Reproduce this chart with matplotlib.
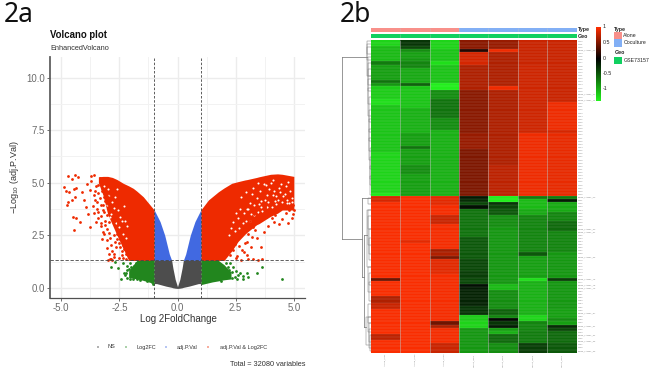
import numpy as np
import matplotlib
matplotlib.use('Agg')
import matplotlib.pyplot as plt
from matplotlib.colors import LinearSegmentedColormap

plt.rcParams['font.family'] = ['Liberation Sans', 'DejaVu Sans']
plt.rcParams['mathtext.default'] = 'regular'

W, H = 655, 378

# volcano regions (x, lower edge, upper edge)
red_l_x = [-3.4, -3.2, -3.0, -2.8, -2.6, -2.33, -2.1, -1.9, -1.75, -1.47, -1.0]
red_l_lo = [5.0, 4.4, 3.5, 3.0, 2.5, 1.85, 1.3, 1.3, 1.3, 1.3, 1.3]
red_l_hi = [5.28, 5.3, 5.3, 5.25, 5.15, 4.97, 4.85, 4.73, 4.6, 4.33, 3.7]
red_r_x = [1.0, 1.33, 1.76, 2.0, 2.33, 2.6, 2.9, 3.0, 3.4, 3.5, 4.0, 4.3, 4.5, 5.0]
red_r_lo = [1.3, 1.3, 1.3, 1.3, 1.75, 2.2, 2.55, 2.65, 3.0, 3.05, 3.4, 3.55, 3.7, 3.7]
red_r_hi = [3.7, 4.18, 4.57, 4.75, 4.97, 5.05, 5.13, 5.15, 5.25, 5.28, 5.4, 5.42, 5.4, 5.3]
blue_x = [0.25, 0.35, 0.55, 0.75, 1.0]
blue_hi = [1.3, 1.6, 2.5, 3.15, 3.7]
grey_x = [0.0, 0.1, 0.2, 0.25, 0.5, 0.9, 1.0]
grey_hi = [0.05, 0.4, 0.95, 1.3, 1.3, 1.3, 1.3]
grey_lo = [-0.03, -0.02, 0.0, 0.02, 0.08, 0.2, 0.2]
green_l_x = [-2.1, -1.9, -1.75, -1.5, -1.0]
green_l_lo = [0.48, 0.45, 0.42, 0.36, 0.2]
green_l_hi = [0.8, 1.1, 1.3, 1.3, 1.3]
green_r_x = [1.0, 1.5, 1.76, 2.0, 2.3]
green_r_lo = [0.15, 0.28, 0.33, 0.38, 0.42]
green_r_hi = [1.3, 1.3, 1.3, 1.1, 0.75]

red_pts_x = [-4.87, -4.69, -4.41, -4.29, -4.55, -4.78, -4.65, -4.45, -4.35, -4.75, -4.72, -4.55, -4.4, -4.35,
             -4.5, -4.2, -4.44, -3.75, -3.85, -3.95, -4.1, -3.9, -3.7, -3.6, -3.78, -3.55, -3.5, -3.4, -3.35,
             -3.3, -3.25, -3.2, -3.15, -3.6, -3.5, -3.45, -3.3, -3.2, -3.1, -3.05, -3.0, -3.3, -3.15, -3.05,
             -2.95, -2.85, -3.05, -2.95, -2.85, -2.75, -2.65, -3.2, -3.05, -2.9, -2.8, -2.7, -2.6, -2.55,
             -2.95, -2.75, -2.65, -2.5, -2.4, -2.85, -2.75, -3.0, -2.9, -2.8, -2.45, -2.35, -2.2,
             -2.15, -2.05, -4.0, -3.65, -3.42, -3.25, -3.1, -2.92, -3.7, -3.55, -3.4, -3.25, -3.45, -3.6,
             -3.35, -3.2, -3.1, -3.4, -3.15, -3.3, -2.6, -2.5, -2.4, -2.3, -2.2, -2.45, -2.35,
             2.72, 3.02, 3.26, 2.76, 3.0, 3.15, 3.6, 3.4, 3.2, 3.35, 2.55, 2.4, 2.9, 3.05, 3.25, 3.4,
             3.55, 3.1, 3.3, 3.7, 3.9, 4.05, 4.2, 4.35, 4.5, 4.65, 4.75, 4.9, 4.95, 5.0, 4.95, 4.4, 4.6,
             4.3, 3.95, 3.75, 3.55, 2.3, 2.45, 2.6, 2.75, 2.9, 3.1, 2.1, 2.25, 2.5, 2.65, 1.95, 2.05,
             2.2, 2.35, 3.8, 4.15, 4.8, 3.45, 3.65, 3.0, 2.85]
red_pts_y = [4.81, 5.32, 5.35, 5.29, 5.16, 4.6, 4.55, 4.7, 4.75, 3.95, 4.1, 4.2, 4.3, 3.3,
             3.35, 3.15, 2.75, 2.9, 3.5, 3.85, 4.55, 4.95, 5.3, 5.35, 4.65, 4.2, 4.85, 4.5, 5.2,
             3.95, 4.6, 5.05, 4.3, 3.55, 3.15, 3.75, 3.4, 3.7, 3.0, 3.45, 4.0, 2.95, 2.55, 2.8,
             3.15, 3.65, 2.25, 2.6, 2.05, 2.5, 2.9, 2.65, 1.9, 2.35, 1.75, 2.2, 2.55, 3.1,
             1.6, 1.45, 1.95, 1.4, 1.75, 1.35, 1.6, 1.33, 1.36, 1.3, 2.3, 2.05, 1.35,
             1.9, 1.5, 4.2, 3.9, 3.3, 2.3, 3.2, 4.45, 5.1, 4.6, 4.9, 4.75, 4.1, 4.4,
             4.25, 3.95, 4.15, 3.6, 3.6, 3.1, 2.3, 2.15, 1.55, 1.85, 1.6, 1.95, 1.4,
             1.32, 1.35, 1.35, 1.8, 1.55, 1.95, 1.95, 2.35, 2.4, 2.75, 1.5, 1.8, 2.15, 2.55, 2.9, 3.15,
             3.3, 3.2, 3.5, 2.65, 2.95, 3.3, 3.45, 3.05, 3.25, 3.55, 3.1, 3.3, 3.5, 3.7, 3.95, 3.75, 3.9,
             3.7, 3.6, 3.85, 3.55, 2.2, 2.1, 2.45, 2.65, 2.95, 3.05, 1.7, 1.55, 1.4, 2.0, 1.45, 2.05,
             1.95, 2.4, 3.35, 3.15, 3.7, 1.33, 1.38, 2.2, 1.7]

hole_x = [2.75, 2.95, 3.1, 3.25, 3.4, 3.55, 3.7, 3.85, 4.0, 4.15, 4.3, 4.45, 4.6, 4.75, 4.9, 3.05, 3.3, 3.5, 3.75,
          3.95, 4.2, 4.4, 4.65, 4.85, 3.2, 3.6, 3.9, 4.1, 4.35, 4.55, 4.8, 3.45, 3.8, 4.25, 4.7, 2.85, 3.15, 2.6,
          2.4, 2.5, 2.2, 2.3, 2.45, 2.65, 2.8, 2.95, 3.1, 3.3, 3.45, 3.65, 3.85, 4.05, 4.25, 4.5, 4.7, 4.9, 4.1,
          3.6, 3.0, 2.7, -2.55, -2.4, -2.7, -2.3, -2.15, -2.6, -2.8, -2.95, -3.05, -2.85, -2.65, -2.5, -2.35, -2.2,
          -3.0, -2.75, -2.45, -2.25, -3.15, -2.9]
hole_y = [4.3, 4.55, 4.05, 4.75, 4.25, 4.6, 4.95, 4.4, 5.0, 4.6, 4.2, 4.95, 4.45, 5.05, 4.25, 3.75, 3.95, 4.0, 4.2,
          4.7, 4.15, 4.55, 4.85, 4.6, 4.45, 4.15, 4.1, 5.15, 4.75, 4.35, 4.05, 5.0, 4.9, 4.35, 4.2, 3.55, 3.5, 3.3,
          3.15, 3.55, 2.5, 2.85, 2.7, 2.85, 3.1, 3.2, 3.2, 3.45, 3.6, 3.65, 3.85, 3.85, 4.0, 4.1, 4.05, 4.1, 4.4,
          3.85, 3.75, 3.75, 3.7, 3.2, 4.3, 3.9, 2.95, 4.7, 4.1, 4.4, 3.95, 3.5, 3.1, 2.9, 2.55, 2.35,
          4.7, 3.8, 3.35, 3.2, 4.85, 3.35]

green_pts_x = [-2.86, -2.57, -2.69, -2.36, -2.43, -2.16, -2.04, -1.9, -1.73, -1.6, -2.19, -2.1, -1.95, -2.22, -1.85,
               -1.78, -1.98, -1.3, -1.1, -1.05, -2.3, -2.25, -2.15, -2.05,
               1.97, 2.26, 2.4, 2.05, 2.33, 2.55, 2.83, 2.97, 2.69, 3.4, 3.62, 4.5, 3.05, 2.83, 1.85, 2.15, 2.6, 2.1,
               2.45, 2.35, 2.5, 2.2]
green_pts_y = [1.0, 0.96, 1.24, 1.16, 0.44, 0.47, 0.44, 0.44, 0.44, 0.35, 0.84, 0.9, 0.75, 0.7, 1.05,
               1.2, 1.0, 0.33, 0.27, 0.2, 0.72, 0.6, 1.05, 1.2,
               0.99, 1.16, 0.99, 0.78, 0.75, 0.44, 0.44, 0.68, 0.68, 0.68, 0.97, 0.4, 0.52, 0.55, 0.32, 1.0, 0.62, 1.2,
               0.5, 0.45, 0.8, 0.85]

x_ticks = [-5.0, -2.5, 0.0, 2.5, 5.0]
y_ticks = [0.0, 2.5, 5.0, 7.5, 10.0]
legend_names = ['NS', 'Log2FC', 'adj.P.Val', 'adj.P.Val & Log2FC']

alone_1 = [-1.2]*2 + [-1.05]*5 + [-0.7] + [-0.9]*5 + [-0.65, -0.85] + [-1.15]*4 + [-1.25]*2 + [-1.1]*15 + [-1.2]*13 + [-1.3] \
    + [0.85]*2 + [1.0]*24 + [0.45] + [1.0]*5 + [0.7]*2 + [0.8]*2 + [1.0]*8 + [0.75]*2 + [1.0]*4
alone_2 = [-0.3, -0.3, -0.4, -0.8, -0.9, -0.9, -0.85, -0.75, -0.75] + [-0.95]*5 + [-0.55] + [-1.1]*7 + [-1.0]*8 + [-0.9]*4 \
    + [-0.65] + [-0.9]*5 + [-0.8]*3 + [-0.9]*7 \
    + [1.0]*14 + [0.9] + [1.0]*35
alone_3 = [-1.2]*3 + [-1.1]*4 + [-1.25] + [-1.1]*6 + [-1.35]*2 + [-0.8]*3 + [-0.65]*6 + [-0.8]*4 + [-1.0]*21 \
    + [0.9]*3 + [0.98]*3 + [0.8]*3 + [0.98]*8 + [0.65, 0.7, 0.5] + [0.9]*5 + [0.98]*15 + [0.45, 0.7] + [0.98]*5 + [0.8]*3
cocult_1 = [0.55]*3 + [0.15] + [0.85]*4 + [0.7]*8 + [0.55]*14 + [0.6]*5 + [0.5]*15 \
    + [-0.15, -0.25, -0.4, -0.1] + [-0.65]*9 + [-0.5]*7 + [-0.4]*4 + [-0.35]*2 + [-0.4]*2 + [-0.08, -0.15] \
    + [-0.2]*5 + [-0.3]*3 + [-1.15]*2 + [-1.2]*2 + [-0.85]*8
cocult_2 = [0.6]*3 + [0.95] + [0.7]*11 + [0.95] + [0.7]*24 + [0.75]*10 \
    + [-1.35]*2 + [-0.3, -0.4, -0.5, -0.5] + [-0.8]*4 + [-0.85]*18 + [-1.05]*2 + [-0.8]*6 + [-0.55]*2 \
    + [-0.75, -0.05, -0.3, -0.15, -0.9, -1.0] + [-0.6]*3 + [-0.8]*3
cocult_3 = [0.8]*8 + [0.82]*22 + [0.95]*20 \
    + [-0.7] + [-1.05]*3 + [-0.95]*2 + [-0.75]*12 + [-0.5] + [-0.9]*7 + [-1.25] + [-1.0]*11 + [-1.2]*2 + [-0.75]*3 \
    + [-0.7]*4 + [-0.35]*3
cocult_4 = [0.8]*20 + [0.95]*9 + [0.85] + [0.92]*20 \
    + [-0.7, -0.15] + [-0.95]*3 + [-0.75]*3 + [-0.6]*3 + [-0.75]*7 + [-0.85]*8 + [-0.35] + [-0.85]*9 + [-0.9]*3 \
    + [-0.8, -0.9, -0.25, -0.4] + [-0.6]*4 + [-0.5]*3
heat_cols = [alone_1, alone_2, alone_3, cocult_1, cocult_2, cocult_3, cocult_4]

# labels too small to read in the source, so neutral names of similar length
sample_labels = ['Alone_rep1', 'Alone_rep2', 'Alone_rep3', 'Cocult_rep1', 'Cocult_rep2', 'Cocult_rep3', 'Cocult_rep4']
long_rows = [3, 17, 19, 50, 60, 61, 69, 76, 78, 79, 87, 91, 94, 96, 99]
cbar_ticks = [-1, -0.5, 0, 0.5, 1]

# dendrogram merges: height, first row, second row
dend_merges = [(4.0, 0, 11), (3.6, 1, 4), (3.2, 5, 11), (3.4, 2, 6), (2.8, 7, 16), (2.6, 9, 14), (2.6, 12, 20),
               (2.3, 15, 24), (2.1, 18, 26), (1.9, 22, 29), (1.7, 25, 32), (1.5, 28, 35), (1.3, 31, 38),
               (1.1, 34, 41), (0.9, 37, 44), (0.7, 40, 46), (0.5, 43, 49),
               (3.0, 50, 52), (3.5, 54, 72), (3.0, 54, 60), (2.6, 56, 65), (2.2, 60, 68), (1.9, 63, 70),
               (2.4, 72, 80), (1.8, 74, 78), (1.5, 77, 83), (4.5, 88, 97), (3.2, 84, 90), (2.5, 88, 93),
               (2.0, 90, 96), (1.5, 92, 98), (1.0, 94, 99)]
dend_trunk = [(28.4, 5.5, 63.6), (9.0, 50.5, 75.8), (6.4, 62.5, 91.7)]

fig = plt.figure(figsize=(W / 100, H / 100), dpi=100)


def axes_px(left, top, right, bottom):
    return fig.add_axes([left / W, 1 - bottom / H, (right - left) / W, (bottom - top) / H])


def text_px(x, y, s, **kw):
    kw.setdefault('va', 'center')
    fig.text(x / W, 1 - y / H, s, **kw)


text_px(4, 15, '2a', fontsize=19, family=['Noto Sans', 'DejaVu Sans'], color='#111111')
text_px(340, 15, '2b', fontsize=19, family=['Noto Sans', 'DejaVu Sans'], color='#111111')

# volcano panel
ax = axes_px(50, 57, 305, 298.3)
ax.set_xlim(-5.48, 5.48)
ax.set_ylim(-0.5, 10.98)
ax.set_xticks(x_ticks)
ax.set_yticks(y_ticks)
ax.set_xticklabels(['-5.0', '-2.5', '0.0', '2.5', '5.0'])
ax.set_xticks([-3.75, -1.25, 1.25, 3.75], minor=True)
ax.set_yticks([1.25, 3.75, 6.25, 8.75], minor=True)
ax.grid(True, which='major', color='#ececec', lw=1.0)
ax.grid(True, which='minor', color='#f2f2f2', lw=0.7)
ax.set_axisbelow(True)
for s in ['top', 'right']:
    ax.spines[s].set_visible(False)
ax.spines['left'].set_color('#606060')
ax.spines['left'].set_linewidth(1.3)
ax.spines['bottom'].set_color('#505050')
ax.spines['bottom'].set_linewidth(0.9)
ax.tick_params(which='major', length=2, width=0.6, color='#555555', labelsize=6.9, labelcolor='#6a6a6a', pad=1.5)
ax.tick_params(which='minor', length=0)

red, green, blue, dark = '#ee2a00', '#22861e', '#4169e1', '#4d4d4d'
gx = np.array(grey_x)
bx = np.array(blue_x)
ax.fill_between(red_l_x, red_l_lo, red_l_hi, color=red, lw=0)
ax.fill_between(red_r_x, red_r_lo, red_r_hi, color=red, lw=0)
ax.fill_between(-bx, 1.3, blue_hi, color=blue, lw=0)
ax.fill_between(bx, 1.3, blue_hi, color=blue, lw=0)
ax.fill_between(-gx, grey_lo, grey_hi, color=dark, lw=0)
ax.fill_between(gx, grey_lo, grey_hi, color=dark, lw=0)
ax.fill_between(green_l_x, green_l_lo, green_l_hi, color=green, lw=0)
ax.fill_between(green_r_x, green_r_lo, green_r_hi, color=green, lw=0)
ax.scatter(hole_x, hole_y, s=2.2, color='white', lw=0, zorder=3)
ax.scatter(red_pts_x, red_pts_y, s=4, color=red, lw=0, zorder=4)
ax.scatter(green_pts_x, green_pts_y, s=4, color=green, lw=0, zorder=4)
for v in [-1, 1]:
    ax.axvline(v, color='#444444', lw=0.6, ls=(0, (3, 2)), zorder=5)
ax.axhline(1.3, color='#444444', lw=0.6, ls=(0, (4, 2)), zorder=5)

text_px(50, 35, 'Volcano plot', fontsize=6.9, fontweight='bold', color='#111111')
text_px(50, 48, 'EnhancedVolcano', fontsize=5.3, color='#333333')
text_px(15, 177, r'$-$Log$_{10}$ (adj.P.Val)', fontsize=6.5, rotation=90, ha='center', color='#333333')
text_px(178.7, 319, 'Log 2FoldChange', fontsize=7.0, ha='center', color='#333333')
text_px(305, 364, 'Total = 32080 variables', fontsize=5.3, ha='right', color='#333333')

legend_dot_x = [98, 126, 166, 208]
legend_text_x = [111, 146, 187, 244]
legend_colors = ['#333333', green, blue, red]
leg = fig.add_axes([0, 0, 1, 1], facecolor='none')
leg.set_xlim(0, W)
leg.set_ylim(H, 0)
leg.axis('off')
leg.scatter(legend_dot_x, [347] * 4, s=1.0, color=legend_colors, lw=0)
for x, name in zip(legend_text_x, legend_names):
    text_px(x, 347, name, fontsize=4.0, ha='center', color='#333333')

# heatmap panel
cmap = LinearSegmentedColormap.from_list('gbr', [(0, '#22f21c'), (1.37 / 2.39, '#000000'), (1, '#ff2e00')])
heat = np.array(heat_cols).T
hm = axes_px(370.7, 39.5, 576.7, 352.7)
hm.pcolormesh(heat, cmap=cmap, vmin=-1.37, vmax=1.02)
hm.set_ylim(heat.shape[0], 0)
hm.hlines(range(1, heat.shape[0]), 0, 7, color='#d8d8d8', lw=0.3, alpha=0.35)
hm.vlines(range(1, 7), 0, heat.shape[0], color='#c0c0c0', lw=0.5, alpha=0.7)
hm.axis('off')

for i in range(heat.shape[0]):
    name = 'GENE_LABEL_%02d' % i if i in long_rows else 'G%03d' % i
    text_px(578, 39.5 + (i + 0.5) * 3.13, name, fontsize=1.6, color='#888888')
for j, name in enumerate(sample_labels):
    text_px(370.7 + (j + 0.5) * 206 / 7, 354, name, fontsize=1.7, rotation=90, ha='center', va='top', color='#888888')

# annotation bars
ann = axes_px(370.7, 27.7, 576.7, 32.3)
ann.pcolormesh([[0, 0, 0, 1, 1, 1, 1]], cmap=LinearSegmentedColormap.from_list('t', ['#f8908a', '#82aff5']))
ann.vlines(range(1, 7), 0, 1, color='#c0c0c0', lw=0.4, alpha=0.7)
ann.axis('off')
geo = axes_px(370.7, 33.7, 576.7, 38.3)
geo.pcolormesh([[0] * 7], cmap=LinearSegmentedColormap.from_list('g', ['#10d060', '#10d060']))
geo.vlines(range(1, 7), 0, 1, color='#70c890', lw=0.4)
geo.axis('off')
text_px(578, 30, 'Type', fontsize=3.8, fontweight='bold', color='#222222')
text_px(578, 36, 'Geo', fontsize=3.8, fontweight='bold', color='#222222')

# colour bar
cb = axes_px(595.7, 26.7, 600.7, 100.7)
cb.imshow(np.linspace(1.02, -1.37, 200).reshape(-1, 1), aspect='auto', cmap=cmap, vmin=-1.37, vmax=1.02,
          extent=[0, 1, -1.37, 1.02])
cb.axis('off')
for t in cbar_ticks:
    text_px(602.7, 58 - t * 31, ('%g' % t), fontsize=3.8, color='#222222')

# annotation legend
text_px(614.3, 29, 'Type', fontsize=3.8, fontweight='bold', color='#222222')
text_px(614.3, 53, 'Geo', fontsize=3.8, fontweight='bold', color='#222222')
for top, colour, name in [(32, '#f8908a', 'Alone'), (39.3, '#82aff5', 'Coculture'), (56.7, '#10d060', 'GSE73157')]:
    leg.fill_between([614.3, 622.3], top, top + 7.3, color=colour, lw=0)
    text_px(623.3, top + 3.6, name, fontsize=3.8, color='#222222')

# dendrogram
dn = axes_px(340, 39.5, 370.7, 352.7)
dn.set_xlim(30.7, 0)
dn.set_ylim(100, 0)
dn.axis('off')
for h, a, b in dend_merges:
    dn.plot([0, h, h, 0], [a + 0.5, a + 0.5, b + 0.5, b + 0.5], color='#7a7a7a', lw=0.35)
for h, a, b in dend_trunk:
    dn.plot([h, h], [a, b], color='#7a7a7a', lw=0.55)
dn.plot([4, 28.4], [5.5, 5.5], color='#7a7a7a', lw=0.55)
dn.plot([9, 28.4], [63.6, 63.6], color='#7a7a7a', lw=0.55)
dn.plot([0, 9], [50.5, 50.5], color='#7a7a7a', lw=0.55)
dn.plot([6.4, 9], [75.8, 75.8], color='#7a7a7a', lw=0.55)
dn.plot([3.5, 6.4], [62.5, 62.5], color='#7a7a7a', lw=0.55)
dn.plot([4.5, 6.4], [91.7, 91.7], color='#7a7a7a', lw=0.55)

fig.savefig('out.png', dpi=100)
